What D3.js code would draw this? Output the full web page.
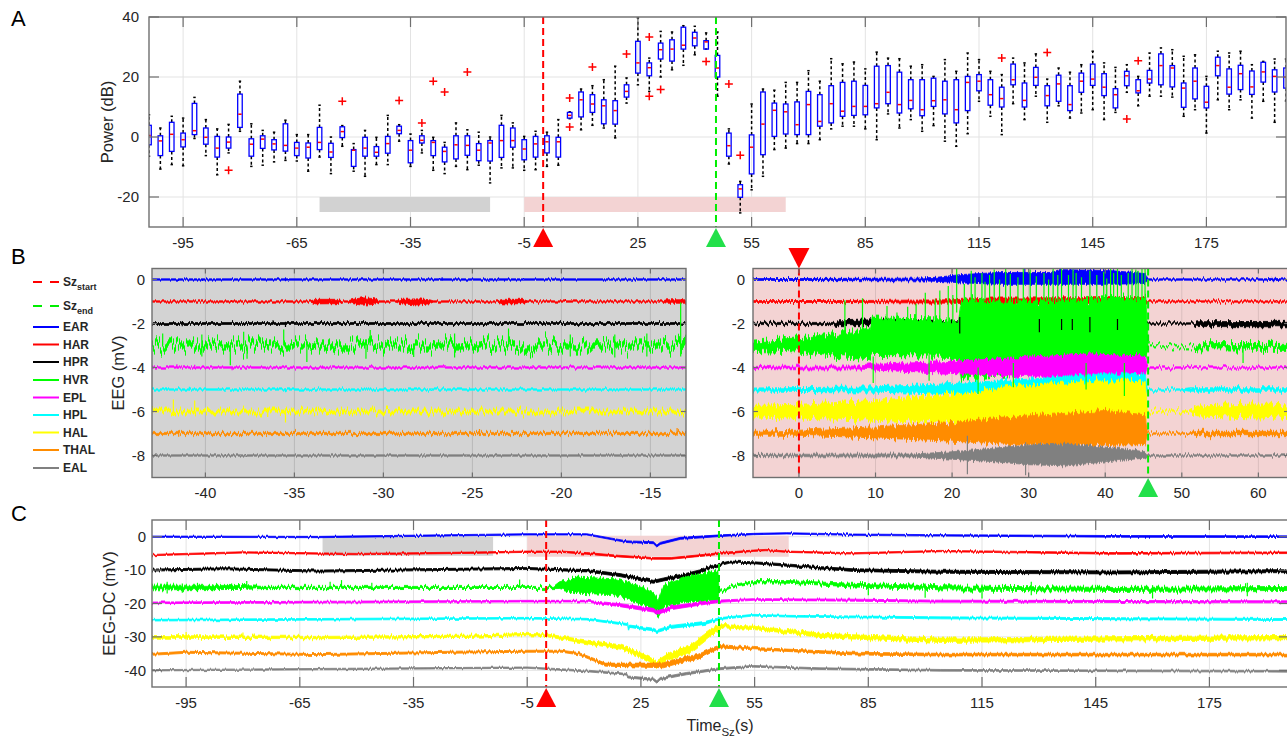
<!DOCTYPE html>
<html>
<head>
<meta charset="utf-8">
<script src="https://cdn.jsdelivr.net/npm/d3@7"></script>
<style>
  body { margin: 0; background: #fff; }
  svg { display: block; }
  text { font-family: "Liberation Sans", Arial, Helvetica, sans-serif; }
</style>
</head>
<body>
<svg id="chart" width="1287" height="740"></svg>
<script>
// ---------- panel A : power box plots (dB), one box every 3 s ----------
const boxTime = [
  -104,-101,-98,-95,-92,-89,-86,-83,-80,-77,
  -74,-71,-68,-65,-62,-59,-56,-53,-50,-47,
  -44,-41,-38,-35,-32,-29,-26,-23,-20,-17,
  -14,-11,-8,-5,-2,1,4,7,10,13,
  16,19,22,25,28,31,34,37,40,43,
  46,49,52,55,58,61,64,67,70,73,
  76,79,82,85,88,91,94,97,100,103,
  106,109,112,115,118,121,124,127,130,133,
  136,139,142,145,148,151,154,157,160,163,
  166,169,172,175,178,181,184,187,190,193,
  196];
const boxQ1 = [
  -2.6,-6.2,-4.8,-3.3,0.8,-2.4,-6.7,-3.7,3.2,-6.4,
  -3.8,-4.3,-4.7,-6.2,-7,-4.2,-6.8,-0.2,-9.8,-6.4,
  -6.4,-5.4,1.1,-8.6,-2,-6.2,-8.3,-7.3,-6.1,-7.9,
  -8,-6.8,-3.4,-7.6,-6.7,-5.3,-6.7,6.3,6.7,8.2,
  4.4,4.3,13.3,21.3,20.4,26,25.3,29.3,30.4,29.3,
  20,-6.4,-20.1,-12.3,-5.9,0.2,1,0.8,0.8,3.6,
  4.7,6.9,7.2,7.4,9.7,11.1,8,9.4,7.1,10.2,
  7.7,4.7,8.8,15.4,10.6,10,17.4,10,17.2,10.4,
  11.9,8.8,14.9,17.2,13.8,9.7,17.1,14.7,18,17.4,
  16.7,9.9,12.7,9.7,20.4,14.3,15.8,14.2,18.3,15,
  16.3];
const boxMedian = [
  0.5,-1.3,0.9,-0.9,2.1,-0.1,-3.7,-1.7,7.6,-2.4,
  -0.7,-2.3,-2.8,-3.7,-3.4,-1.8,-5,1.8,-4.4,-3.7,
  -5.1,-2.2,2.2,-4.4,-1.1,-1.8,-4.8,-2.6,-2.8,-4.4,
  -2,-1.2,-1.2,-4,-2.3,-1.6,-1.6,7.2,12.4,11,
  10.4,8.8,15.2,24.7,23.1,29.1,29.3,30.6,33,31.7,
  23,-2.9,-17.3,-3.4,4.3,8.9,8.4,4.1,10.8,5.2,
  11.1,8.6,10.2,10.2,11.1,14.9,10.8,12.2,9.1,12.1,
  12.4,9.1,18.2,18.6,14.1,12.8,19.1,12.2,19.9,13.8,
  17.7,10.8,18.6,19.3,16.6,14.1,20.4,15.4,19.3,23.8,
  23,16.3,18.6,11.6,23.8,16.6,21.1,16.7,21.7,20.2,
  20];
const boxQ3 = [
  3.9,0.4,4.9,1.3,11.2,3,0.2,0,14.3,-0.6,
  0.4,-0.9,4.4,-1.8,-2,3.2,-2.1,3.4,-4.2,-0.1,
  -3.2,0.2,3.6,-1.2,0.4,-1.2,-3.4,0.4,0.4,-2.2,
  -1.2,3.9,3,-0.9,0.2,0.4,-0.1,8.2,15,14.1,
  12.4,12.1,17.4,31.9,24.7,31.3,32.4,36.6,34.9,32.1,
  27.2,1.3,-15.9,0.7,15,11.3,11,11.7,15.2,14.1,
  17.1,18.2,18.6,17.2,23.6,23.8,21.6,19.1,19.1,19.6,
  18.6,19.1,20.2,20.8,19.1,16.6,24.3,18,23.2,17.1,
  20.6,17.1,21.3,24.3,21.1,16.1,21.9,19.1,22.2,27.7,
  23.8,18,23,16.9,26.6,22.7,23.9,22,24.9,22.4,
  23];
const boxLow = [
  -6.4,-10.7,-9.2,-9.6,-0.5,-6.2,-12.6,-5.3,1.9,-9.8,
  -9.4,-8.3,-7.8,-8,-11.4,-6.7,-12.2,-3.1,-11.4,-13.1,
  -9.2,-9.2,-1.4,-9.8,-5.3,-11.1,-12.2,-9.8,-10.9,-9.4,
  -15.3,-10.3,-10.3,-11.1,-10.9,-9.8,-9.4,6.1,2.4,3.9,
  3,-0.3,11.3,17.4,15.2,20,22.4,23.9,27.4,29.3,
  13.6,-9,-25.3,-17.6,-13.1,-4.2,-3.7,-2.2,-2.2,-0.9,
  2.7,3.6,3.6,2.7,-0.9,7.7,3,5.8,1.9,3.8,
  -1.4,-3.1,1.1,11.9,6.9,0.8,11.1,5.8,13.6,4.9,
  10.4,6.3,8,9.1,5.8,8.2,14.9,10.4,13.6,13.6,
  13.3,6.9,9.1,1.3,12.4,9.1,12.4,6.3,11.9,4.9,
  12];
const boxHigh = [
  7.4,3,6.9,6.3,13.2,5.8,2.7,4.2,18.6,4.4,
  2.2,1.6,5.6,0.8,0.8,10.6,0,3.8,-2.2,2.2,
  -0.1,7.2,4.1,1,2.2,-0.1,-1.8,4.7,2.4,1.6,
  0,7.2,4.7,0.2,1.9,1.6,5.8,8.4,16,17.1,
  19.1,23.6,19.7,39.7,26.3,35.2,35,37.1,36.9,34.7,
  35,2.7,-14.8,11,16,15.6,18.2,18.2,22.1,18.6,
  26.1,24.4,25,22.7,28.3,26.3,26.1,23.6,24.1,20.2,
  25.8,21.9,28,25.8,21.9,20.8,26.3,24.7,27.7,19.3,
  23,21.6,24.1,28.6,24.7,23.2,24.1,20.2,28,29.7,
  29.1,26.9,27.4,20.2,28.6,28,28.6,24.1,25.2,26,
  26];
const outlierTime  = [-83,-53,-38,-32,-29,-26,-20,7,7,13,22,28,28,31,43,49,52,121,133,154,157];
const outlierValue = [-11.1,11.9,12.2,4.7,18.6,15,21.7,13,3.3,23.3,27.7,33.3,13.6,15.8,25.2,17.7,-6.1,26.3,28.2,6,25.4];

const grayWindow = [-59, -14];
const pinkWindow = [-5, 64];
const szStart = 0;
const szEnd = 45.6;

const xTicksLong = [-95,-65,-35,-5,25,55,85,115,145,175];
const yTicksA = [-20,0,20,40];
const xTicksBL = [-40,-35,-30,-25,-20,-15];
const xTicksBR = [0,10,20,30,40,50,60];
const yTicksB = [-8,-6,-4,-2,0];
const yTicksC = [-40,-30,-20,-10,0];

// ---------- channels ----------
const channels = ['EAR','HAR','HPR','HVR','EPL','HPL','HAL','THAL','EAL'];
const chColors = ['#0000ff','#ff0000','#000000','#00ff00','#ff00ff','#00ffff','#ffff00','#ff8c00','#808080'];

// ---------- panel B left (pre-ictal window), envelope knots [t, low, high] in mV ----------
const blEAR = [[-43,-0.03,0.03],[-13,-0.03,0.03]];
const blHAR = [[-43,-1.03,-0.97],[-34.1,-1.03,-0.97],[-33.8,-1.11,-0.9],[-32.6,-1.1,-0.9],[-32.3,-1.03,-0.97],
  [-32,-1.03,-0.97],[-31.7,-1.1,-0.9],[-31.2,-1.17,-0.83],[-30.5,-1.13,-0.87],[-30.2,-1.03,-0.97],
  [-29.3,-1.03,-0.97],[-29,-1.11,-0.9],[-28,-1.16,-0.88],[-27.4,-1.1,-0.92],[-27.2,-1.03,-0.97],
  [-23.6,-1.03,-0.97],[-23.3,-1.11,-0.9],[-22.2,-1.1,-0.9],[-21.9,-1.03,-0.97],[-14.3,-1.03,-0.97],
  [-14.1,-1.08,-0.92],[-13,-1.08,-0.92]];
const blHPR = [[-43,-2.04,-1.96],[-13,-2.04,-1.96]];
const blHVR = [[-43,-3.12,-2.88],[-13.5,-3.12,-2.88],[-13.3,-3.2,-2.8],[-13,-3.15,-2.75]];
const blEPL = [[-43,-4.03,-3.97],[-13,-4.03,-3.97]];
const blHPL = [[-43,-5.03,-4.97],[-13,-5.03,-4.97]];
const blHAL = [[-43,-6.07,-5.93],[-13,-6.07,-5.93]];
const blTHAL = [[-43,-7.05,-6.95],[-13,-7.05,-6.95]];
const blEAL = [[-43,-8.03,-7.97],[-13,-8.03,-7.97]];
// spikes [channel, t, low, high]
const blSpikes = [
  [0,-35.5,-0.08,0.04],[0,-26.7,-0.04,0.1],
  [2,-41.3,-2.12,-1.9],[2,-36.2,-2.05,-1.85],[2,-35.5,-2.16,-1.92],
  [3,-42.4,-3,-2.45],[3,-40.2,-3.5,-2.5],[3,-38.6,-3.9,-3],[3,-37.85,-3,-2.38],[3,-37.66,-3.6,-3],
  [3,-35.6,-3,-2.27],[3,-34.3,-3.75,-3],[3,-30.98,-3.6,-3],[3,-30.74,-3,-2.29],[3,-28.3,-3.52,-3],
  [3,-26,-3.55,-2.45],[3,-22.97,-3,-2.23],[3,-19.5,-3.5,-2.5],[3,-17,-3.55,-2.5],[3,-15.2,-3.5,-2.45],
  [3,-13.3,-3.5,-1.05],
  [4,-41.6,-4.05,-3.85],[4,-40.6,-4.05,-3.88],[4,-38.5,-4.13,-3.95],
  [5,-40.9,-5.05,-4.88],[5,-35.5,-5.12,-4.95],
  [6,-41.8,-6.2,-5.45],[6,-40.6,-6.1,-5.5],[6,-36.5,-6.25,-5.85],[6,-35.5,-6.5,-5.85],
  [7,-41.5,-7.15,-6.85],[7,-24.6,-7.1,-6.8],[7,-13.5,-7.1,-6.75]];

// ---------- panel B right (seizure window) ----------
const brEAR = [[-6,-0.04,0.04],[15,-0.06,0.06],[18,-0.08,0.1],[21,-0.15,0.22],[26,-0.22,0.32],[33,-0.22,0.32],
  [34,-0.22,0.45],[41,-0.22,0.4],[45.2,-0.18,0.27],[45.5,-0.03,0.03],[61,-0.03,0.03],[62,-0.06,0.06],[63,-0.03,0.03],[64,-0.03,0.03]];
const brHAR = [[-6,-1.04,-0.96],[10,-1.05,-0.95],[20,-1.08,-0.92],[25,-1.13,-0.84],[45.2,-1.13,-0.82],[45.5,-1.03,-0.97],[64,-1.03,-0.97]];
const brHPR = [[-6,-2.05,-1.95],[4.5,-2.05,-1.95],[5,-2.1,-1.88],[9.5,-2.1,-1.83],[16,-2.08,-1.88],[20,-2.08,-1.92],
  [45.2,-2.08,-1.92],[45.5,-2.03,-1.97],[51.5,-2.03,-1.97],[52,-2.14,-1.92],[64,-2.15,-1.9]];
const brHVR = [[-6,-3.22,-2.8],[0,-3.3,-2.65],[5,-3.5,-2.45],[9.3,-3.6,-2.2],[9.6,-3.45,-1.75],[20.8,-3.5,-1.8],
  [21.2,-4.5,-0.95],[30,-4.2,-1],[38,-3.9,-0.9],[45.3,-3.6,-0.8],[45.6,-3.07,-3.01],[51.5,-3.07,-3.01],[52,-3.15,-2.92],[64,-3.18,-2.9]];
const brEPL = [[-6,-4.05,-3.95],[8,-4.07,-3.93],[10,-4.12,-3.85],[20,-4.27,-3.72],[30,-4.42,-3.53],[38,-4.52,-3.38],
  [45.2,-4.37,-3.48],[45.5,-4.03,-3.97],[64,-4.03,-3.97]];
const brHPL = [[-6,-5.07,-4.93],[10,-5.12,-4.88],[20,-5.22,-4.73],[30,-5.27,-4.53],[40,-5.37,-4.28],[45.2,-5.37,-4.33],
  [45.5,-5.03,-4.97],[50,-5.03,-4.97],[51,-5.08,-4.92],[64,-5.08,-4.92]];
const brHAL = [[-6,-6.25,-5.72],[0,-6.3,-5.67],[10,-6.4,-5.5],[20,-6.55,-5.2],[30,-6.75,-4.8],[40,-6.95,-4.6],
  [45.2,-6.85,-4.65],[45.5,-6.03,-5.97],[51,-6.03,-5.97],[52,-6.2,-5.75],[60,-6.3,-5.65],[64,-6.22,-5.7]];
const brTHAL = [[-6,-7.08,-6.9],[0,-7.08,-6.85],[10,-7.2,-6.7],[20,-7.35,-6.5],[30,-7.55,-6.2],[40,-7.55,-5.95],
  [45.2,-7.5,-6.15],[45.5,-7.03,-6.97],[51,-7.03,-6.97],[52,-7.1,-6.9],[64,-7.1,-6.9]];
const brEAL = [[-6,-8.05,-7.95],[15,-8.07,-7.93],[20,-8.17,-7.83],[25,-8.27,-7.68],[30,-8.42,-7.53],[35,-8.47,-7.48],
  [42,-8.22,-7.68],[45.2,-8.12,-7.83],[45.5,-8.03,-7.97],[64,-8.03,-7.97]];
const brSpikes = [
  [0,29.5,-0.2,0.5],[0,38.5,-0.2,0.55],
  [3,6,-2.6,-0.94],[3,8.3,-2.5,-0.85],[3,9.7,-4.7,-3.5],[3,11.5,-2,-1.2],[3,12.8,-2,-1.5],[3,14.2,-2,-1.24],
  [3,15.3,-2,-1.1],[3,16.5,-2,-0.6],[3,17,-4.6,-3.4],[3,17.8,-2,-0.9],[3,18.4,-2,-0.5],[3,19.5,-2,-0.3],
  [3,20.1,-2,-0.7],[3,20.6,-1.5,0.5],[3,21.6,-1,-0.2],[3,22.5,-1,0.4],[3,23,-1,0.1],[3,23.4,-5.2,-4],
  [3,23.9,-1,0.3],[3,24.3,-1,-0.1],[3,24.9,-1,0.2],[3,25.5,-1,0.45],[3,26.2,-1,0],[3,27,-1,0.5],
  [3,27.6,-1,0.25],[3,28,-4.9,-3.8],[3,28.6,-1,0.1],[3,29.3,-1,0.5],[3,30.2,-1,0.45],[3,31,-1,0.15],
  [3,32,-1,0.3],[3,32.6,-1,0],[3,33.2,-1,0.5],[3,33.8,-1,0.2],[3,34.3,-1,0.5],[3,35.2,-1,0.2],
  [3,35.8,-1,0.45],[3,36.2,-1,0.3],[3,36.9,-1,0.1],[3,37.5,-5,-3.8],[3,38,-1,0.4],[3,38.9,-1,0.2],
  [3,39.8,-1,0.35],[3,40.2,-1,0.05],[3,40.7,-1,0.5],[3,41.1,-1,0.3],[3,41.6,-1,0.5],[3,42.1,-1,0.2],
  [3,42.5,-5.3,-3.8],[3,43,-1,0.3],[3,43.5,-1,0.5],[3,44,-1,0.45],[3,44.3,-1,0.4],[3,44.8,-1,0.5],
  [3,45.2,-1,0.5],[3,58,-3.8,-3],
  [2,21,-2.45,-1.7],[2,31.4,-2.4,-1.8],[2,34.3,-2.3,-1.8],[2,35.7,-2.3,-1.8],[2,38,-2.4,-1.7],[2,41.6,-2.3,-1.8],
  [8,22,-8.85,-7.1],[8,29.6,-8.9,-7.4]];

// ---------- panel C (DC-coupled EEG), knots [t, centre, half-width] in mV ----------
const dcEAR = [[-104,0,0.2],[-60,-0.1,0.2],[-5,0.7,0.2],[10.7,0.7,0.2],[21.3,-1.5,0.25],[28.3,-1.8,0.3],[29.2,-2.8,0.3],
  [30.1,-2,0.3],[35.4,-0.5,0.3],[45.9,0.3,0.25],[54.7,0.8,0.2],[63.5,1,0.2],[81,0.6,0.2],[104,0.4,0.2],[150,0.1,0.25],[196,0,0.25]];
const dcHAR = [[-104,-5.5,0.2],[-80,-4.7,0.2],[-50,-5.2,0.2],[-20,-4.8,0.2],[-5,-4.5,0.2],[4,-4.5,0.2],[10.7,-5,0.25],
  [19,-5.8,0.25],[28.3,-6.5,0.25],[33,-6.5,0.25],[42,-5.5,0.25],[45.9,-5,0.25],[54.7,-4.2,0.2],[58,-4,0.2],[63.5,-4.5,0.2],
  [81,-5,0.2],[104,-4.3,0.2],[150,-5,0.25],[196,-4.8,0.25]];
const dcHPR = [[-104,-10,0.3],[-85,-9.6,0.3],[-60,-10.3,0.3],[-20,-9.7,0.3],[-5,-9.5,0.3],[10.7,-10.2,0.35],[19.5,-11.5,0.45],
  [28.3,-13.5,0.45],[31,-12.8,0.45],[37,-11.5,0.55],[40.5,-10.5,0.55],[42.3,-9.5,0.45],[45.9,-8.3,0.35],[48.5,-7.6,0.3],
  [54.7,-7.8,0.3],[63.5,-8.5,0.35],[72,-9.3,0.35],[81,-10,0.4],[104,-10.5,0.45],[150,-10.7,0.45],[196,-10.3,0.45]];
const dcHVR = [[-104,-15.2,0.7],[-80,-15.2,0.6],[-75,-15.2,0.35],[-5,-15.2,0.3],[2,-15.2,0.35],[3.5,-14.5,1],[8,-14.5,2.4],
  [18.4,-15,2.4],[25,-17.5,2.7],[28.3,-19.5,2.6],[29.5,-21.5,2.7],[31,-18,3.4],[38,-15.5,3.9],[45.3,-14.8,4.6],
  [45.6,-16.5,0.3],[50,-14.5,0.3],[54.7,-13.5,0.35],[63.5,-13.5,0.4],[72,-14,0.45],[81,-14.5,0.55],[104,-15.3,0.6],
  [150,-15.8,0.6],[196,-15.5,0.6]];
const dcEPL = [[-104,-19.8,0.25],[-5,-19.3,0.25],[10.7,-19.3,0.25],[19.5,-20.5,0.45],[28.3,-22,0.55],[29.2,-22.8,0.55],[33,-21.3,0.55],
  [42,-19.8,0.45],[45.9,-19.3,0.35],[54.7,-18.8,0.25],[81,-19,0.3],[104,-19.3,0.3],[196,-19.5,0.3]];
const dcHPL = [[-104,-25,0.25],[-5,-24.4,0.25],[10.7,-24.7,0.25],[19.5,-26,0.3],[21.5,-26.3,0.3],[21.7,-28,0.3],[22,-26.8,0.35],
  [28.3,-27.8,0.4],[29.2,-28.3,0.4],[33,-27,0.45],[42,-25.8,0.45],[45.9,-24.5,0.3],[54.7,-23.5,0.25],[63.5,-23.8,0.25],
  [104,-24.3,0.3],[196,-24.8,0.3]];
const dcHAL = [[-104,-30,0.4],[-60,-30.2,0.35],[-20,-29.8,0.35],[-5,-29.3,0.35],[0,-29.5,0.4],[10.7,-31.5,0.55],[19.5,-33,0.65],
  [24,-35,0.75],[28.3,-37.5,0.85],[29.2,-38,0.85],[33,-35.5,1.05],[37.5,-34,1.15],[41,-31,1.15],[45,-27.5,0.95],[46.8,-26.8,0.5],
  [54.7,-27.3,0.5],[63.5,-28.3,0.55],[72,-29.5,0.65],[81,-30,0.65],[104,-31,0.65],[150,-30.6,0.65],[196,-30.2,0.65]];
const dcTHAL = [[-104,-35.2,0.3],[-95,-34.6,0.3],[-60,-35.3,0.3],[-20,-34.5,0.3],[-5,-34.3,0.3],[4,-34.3,0.3],[8.5,-35,0.35],
  [13,-37,0.4],[15.6,-38.3,0.45],[28.3,-38.5,0.65],[31,-38.5,0.75],[35.4,-37,0.75],[40,-36,0.75],[45.9,-32.8,0.5],
  [54.7,-33.5,0.35],[63.5,-34,0.35],[81,-35,0.4],[104,-35.3,0.4],[196,-35.3,0.4]];
const dcEAL = [[-104,-40,0.2],[-5,-39.2,0.2],[10.7,-40.2,0.25],[19.5,-41,0.25],[21.3,-41.2,0.25],[21.5,-42,0.3],[28.3,-42.7,0.35],
  [29.2,-43.5,0.35],[30.1,-42.5,0.35],[37,-41,0.35],[45.9,-39.5,0.3],[54.7,-38.8,0.25],[72,-39.5,0.25],[104,-40,0.25],[196,-40.3,0.25]];
const dcSpikes = [
  [3,-100,-17,-13.5],[3,-96,-16.8,-14],[3,-92,-16.5,-13.8],[3,-88,-16.3,-14.2],[3,-83,-16,-14],[3,-79,-15.8,-13.3],
  [3,-57,-15.5,-13.5],[3,-54,-15.5,-13],[3,-46,-15.5,-13.8],[3,-7,-15.3,-12.8],[3,85,-17.5,-14],[3,100,-18.3,-14],
  [3,115,-18.5,-14.3],[3,128,-17.5,-13.5],[3,160,-18.5,-14.5],[3,185,-17.8,-13.8],
  [6,-95,-30.8,-28.5],[6,-80,-30.5,-28.7],[6,-77,-30.5,-29]];

const bLeftTraces = [blEAR, blHAR, blHPR, blHVR, blEPL, blHPL, blHAL, blTHAL, blEAL];
const bRightTraces = [brEAR, brHAR, brHPR, brHVR, brEPL, brHPL, brHAL, brTHAL, brEAL];
const dcTraces = [dcEAR, dcHAR, dcHPR, dcHVR, dcEPL, dcHPL, dcHAL, dcTHAL, dcEAL];

// line texture (px of wiggle) per channel, used only for rendering
const bLeftWiggle = [4, 5, 6, 30, 5, 5, 14, 9, 4];
const bRightWiggle = [6, 6, 8, 18, 8, 8, 14, 11, 7];
const dcWiggle = [3, 3, 4, 8, 3, 3, 6, 4, 3];

// ---------- drawing ----------
const svg = d3.select('#chart');
const defs = svg.append('defs');
const axisColor = '#6f6f6f';
const textColor = '#262626';
const red = '#ff0000';
const green = '#00ee00';
const triGreen = '#22e04a';

const xA = d3.scaleLinear().domain([-104, 196]).range([149, 1286]);
const yA = d3.scaleLinear().domain([-30, 40]).range([227, 17]);
const xBL = d3.scaleLinear().domain([-43, -13]).range([152, 686]);
const xBR = d3.scaleLinear().domain([-6, 64]).range([753, 1289]);
const yB = d3.scaleLinear().domain([-9, 0.5]).range([477.5, 268.5]);
const xC = d3.scaleLinear().domain([-104, 196]).range([152, 1289]);
const yC = d3.scaleLinear().domain([-45, 5]).range([687, 520]);

const makeClip = (id, x, y) => {
  defs.append('clipPath').attr('id', id).append('rect')
    .attr('x', x.range()[0]).attr('y', y.range()[1])
    .attr('width', x.range()[1] - x.range()[0])
    .attr('height', y.range()[0] - y.range()[1]);
  return `url(#${id})`;
};

// vertical-only noise displacement so the bands read as EEG traces
const makeWiggle = (id, scale, seed, freq) => {
  const f = defs.append('filter').attr('id', id)
    .attr('filterUnits', 'userSpaceOnUse').attr('x', 0).attr('y', 0).attr('width', 1287).attr('height', 740)
    .attr('color-interpolation-filters', 'sRGB');
  f.append('feTurbulence').attr('type', 'fractalNoise').attr('baseFrequency', `${freq} 0.004`)
    .attr('numOctaves', 2).attr('seed', seed).attr('result', 'noise');
  f.append('feColorMatrix').attr('in', 'noise').attr('type', 'matrix')
    .attr('values', '0 0 0 0 0.5  0 1 0 0 0  0 0 0 0 0  0 0 0 0 1').attr('result', 'map');
  f.append('feDisplacementMap').attr('in', 'SourceGraphic').attr('in2', 'map').attr('scale', scale)
    .attr('xChannelSelector', 'R').attr('yChannelSelector', 'G');
  return `url(#${id})`;
};

const drawGrid = (g, x, y, xt, yt, color) => {
  g.append('g').selectAll('line').data(xt).join('line')
    .attr('x1', (d) => x(d)).attr('x2', (d) => x(d))
    .attr('y1', y.range()[1]).attr('y2', y.range()[0])
    .attr('stroke', color).attr('stroke-width', 1);
  g.append('g').selectAll('line').data(yt).join('line')
    .attr('x1', x.range()[0]).attr('x2', x.range()[1])
    .attr('y1', (d) => y(d)).attr('y2', (d) => y(d))
    .attr('stroke', color).attr('stroke-width', 1);
};

const drawFrame = (g, x, y, xt, yt, len, xLabelY, yLabelX) => {
  const [x0, x1] = x.range();
  const [y0, y1] = y.range();
  const ticks = g.append('g').attr('stroke', axisColor).attr('stroke-width', 1.2);
  xt.forEach((d) => {
    ticks.append('line').attr('x1', x(d)).attr('x2', x(d)).attr('y1', y0).attr('y2', y0 - len);
    ticks.append('line').attr('x1', x(d)).attr('x2', x(d)).attr('y1', y1).attr('y2', y1 + len);
  });
  yt.forEach((d) => {
    ticks.append('line').attr('x1', x0).attr('x2', x0 + len).attr('y1', y(d)).attr('y2', y(d));
    ticks.append('line').attr('x1', x1).attr('x2', x1 - len).attr('y1', y(d)).attr('y2', y(d));
  });
  g.append('rect').attr('x', x0).attr('y', y1).attr('width', x1 - x0).attr('height', y0 - y1)
    .attr('fill', 'none').attr('stroke', axisColor).attr('stroke-width', 1.4);
  g.append('g').selectAll('text').data(xt).join('text')
    .attr('x', (d) => x(d)).attr('y', xLabelY).attr('text-anchor', 'middle')
    .attr('font-size', 15).attr('fill', textColor).text((d) => String(d));
  if (yLabelX != null) {
    g.append('g').selectAll('text').data(yt).join('text')
      .attr('x', yLabelX).attr('y', (d) => y(d)).attr('dy', '0.35em').attr('text-anchor', 'end')
      .attr('font-size', 15).attr('fill', textColor).text((d) => String(d));
  }
};

const triangle = (g, cx, tipY, baseY, color) => {
  g.append('path')
    .attr('d', `M${cx - 10},${baseY} L${cx + 10},${baseY} L${cx},${tipY} Z`)
    .attr('fill', color);
};

const szLine = (g, x, y, t, color) => {
  g.append('line').attr('x1', x(t)).attr('x2', x(t))
    .attr('y1', y.range()[1]).attr('y2', y.range()[0])
    .attr('stroke', color).attr('stroke-width', 2).attr('stroke-dasharray', '7,4');
};

const drawTraces = (g, x, y, traces, spikes, mode, wiggle, key) => {
  const area = mode === 'centre'
    ? d3.area().x((d) => x(d[0])).y0((d) => y(d[1] - d[2])).y1((d) => y(d[1] + d[2]))
    : d3.area().x((d) => x(d[0])).y0((d) => y(d[1])).y1((d) => y(d[2]));
  traces.forEach((tr, i) => {
    const filt = makeWiggle(`${key}w${i}`, wiggle[i], i * 7 + 3, 0.6);
    g.append('g').attr('filter', filt)
      .append('path').datum(tr).attr('d', area)
      .attr('fill', chColors[i]).attr('stroke', chColors[i])
      .attr('stroke-width', 0.8).attr('stroke-linejoin', 'round');
  });
  g.append('g').selectAll('line').data(spikes).join('line')
    .attr('x1', (d) => x(d[1])).attr('x2', (d) => x(d[1]))
    .attr('y1', (d) => y(d[2])).attr('y2', (d) => y(d[3]))
    .attr('stroke', (d) => chColors[d[0]]).attr('stroke-width', 1.2);
};

// ===== Panel A =====
const gA = svg.append('g');
drawGrid(gA, xA, yA, xTicksLong, yTicksA, '#e3e3e3');
gA.append('rect').attr('x', xA(grayWindow[0])).attr('width', xA(grayWindow[1]) - xA(grayWindow[0]))
  .attr('y', yA(-20)).attr('height', yA(-25) - yA(-20)).attr('fill', '#d2d2d2');
gA.append('rect').attr('x', xA(pinkWindow[0])).attr('width', xA(pinkWindow[1]) - xA(pinkWindow[0]))
  .attr('y', yA(-20)).attr('height', yA(-25) - yA(-20)).attr('fill', '#f3d3d3');

const boxes = boxTime.map((t, i) => ({
  t, lo: boxLow[i], q1: boxQ1[i], med: boxMedian[i], q3: boxQ3[i], hi: boxHigh[i],
}));
const gBox = gA.append('g').attr('clip-path', makeClip('clipA', xA, yA));
const half = (xA(0.6) - xA(0));
const bx = gBox.selectAll('g.box').data(boxes).join('g').attr('class', 'box');
bx.append('line').attr('x1', (d) => xA(d.t)).attr('x2', (d) => xA(d.t))
  .attr('y1', (d) => yA(d.q3)).attr('y2', (d) => yA(d.hi))
  .attr('stroke', '#000').attr('stroke-width', 1.5).attr('stroke-dasharray', '3,2.5');
bx.append('line').attr('x1', (d) => xA(d.t)).attr('x2', (d) => xA(d.t))
  .attr('y1', (d) => yA(d.q1)).attr('y2', (d) => yA(d.lo))
  .attr('stroke', '#000').attr('stroke-width', 1.5).attr('stroke-dasharray', '3,2.5');
bx.append('line').attr('x1', (d) => xA(d.t) - 1.2).attr('x2', (d) => xA(d.t) + 1.2)
  .attr('y1', (d) => yA(d.hi)).attr('y2', (d) => yA(d.hi)).attr('stroke', '#000').attr('stroke-width', 1.5);
bx.append('line').attr('x1', (d) => xA(d.t) - 1.2).attr('x2', (d) => xA(d.t) + 1.2)
  .attr('y1', (d) => yA(d.lo)).attr('y2', (d) => yA(d.lo)).attr('stroke', '#000').attr('stroke-width', 1.5);
bx.append('rect').attr('x', (d) => xA(d.t) - half).attr('width', half * 2)
  .attr('y', (d) => yA(d.q3)).attr('height', (d) => Math.max(1, yA(d.q1) - yA(d.q3)))
  .attr('fill', 'none').attr('stroke', '#0000ff').attr('stroke-width', 1.3);
bx.append('line').attr('x1', (d) => xA(d.t) - half + 0.6).attr('x2', (d) => xA(d.t) + half - 0.6)
  .attr('y1', (d) => yA(d.med)).attr('y2', (d) => yA(d.med)).attr('stroke', red).attr('stroke-width', 1.5);
gBox.selectAll('path.out').data(outlierTime.map((t, i) => [t, outlierValue[i]])).join('path')
  .attr('class', 'out')
  .attr('d', (d) => `M${xA(d[0]) - 4},${yA(d[1])}h8M${xA(d[0])},${yA(d[1]) - 4}v8`)
  .attr('stroke', red).attr('stroke-width', 1.5);

szLine(gA, xA, yA, szStart, red);
szLine(gA, xA, yA, szEnd, green);
drawFrame(gA, xA, yA, xTicksLong, yTicksA, 10, 248, 139);
triangle(gA, xA(szStart), 228, 247, red);
triangle(gA, xA(szEnd), 228, 247, triGreen);
gA.append('text').attr('transform', `translate(113,${(yA(40) + yA(-30)) / 2}) rotate(-90)`)
  .attr('text-anchor', 'middle').attr('font-size', 16.5).attr('fill', textColor).text('Power (dB)');
svg.append('text').attr('x', 11).attr('y', 26).attr('font-size', 22).text('A');

// ===== Panel B =====
const gB = svg.append('g');
// left window
gB.append('rect').attr('x', xBL.range()[0]).attr('y', yB.range()[1])
  .attr('width', xBL.range()[1] - xBL.range()[0]).attr('height', yB.range()[0] - yB.range()[1]).attr('fill', '#d3d3d3');
drawGrid(gB, xBL, yB, xTicksBL, [], 'rgba(0,0,0,0.13)');
const gBL = gB.append('g').attr('clip-path', makeClip('clipBL', xBL, yB));
drawTraces(gBL, xBL, yB, bLeftTraces, blSpikes, 'range', bLeftWiggle, 'bl');
drawFrame(gB, xBL, yB, xTicksBL, yTicksB, 5, 498, 145);

// right window
gB.append('rect').attr('x', xBR.range()[0]).attr('y', yB.range()[1])
  .attr('width', xBR.range()[1] - xBR.range()[0]).attr('height', yB.range()[0] - yB.range()[1]).attr('fill', '#f3d3d3');
drawGrid(gB, xBR, yB, xTicksBR, [], 'rgba(0,0,0,0.1)');
const gBR = gB.append('g').attr('clip-path', makeClip('clipBR', xBR, yB));
drawTraces(gBR, xBR, yB, bRightTraces, brSpikes, 'range', bRightWiggle, 'br');
szLine(gBR, xBR, yB, szStart, red);
szLine(gBR, xBR, yB, szEnd, green);
drawFrame(gB, xBR, yB, xTicksBR, yTicksB, 5, 498, 745);
gB.append('path')
  .attr('d', `M${xBR(szStart) - 10.5},248 L${xBR(szStart) + 10.5},248 L${xBR(szStart)},268.5 Z`).attr('fill', red);
triangle(gB, xBR(szEnd), 478, 497, triGreen);

gB.append('text').attr('transform', `translate(124,${(yB(0.5) + yB(-9)) / 2}) rotate(-90)`)
  .attr('text-anchor', 'middle').attr('font-size', 16.5).attr('fill', textColor).text('EEG (mV)');
svg.append('text').attr('x', 11).attr('y', 264).attr('font-size', 22).text('B');

// legend
const legendRows = [
  { name: 'Sz', sub: 'start', color: red, dash: '9,8' },
  { name: 'Sz', sub: 'end', color: green, dash: '9,8' },
  ...channels.map((c, i) => ({ name: c, sub: null, color: chColors[i], dash: null })),
];
const legendY = [282, 306, 327, 344.5, 362, 380, 397.5, 415, 432.5, 450, 468];
const gLeg = svg.append('g');
legendRows.forEach((r, i) => {
  gLeg.append('line').attr('x1', 33).attr('x2', 59).attr('y1', legendY[i]).attr('y2', legendY[i])
    .attr('stroke', r.color).attr('stroke-width', 2).attr('stroke-dasharray', r.dash);
  const t = gLeg.append('text').attr('x', 63).attr('y', legendY[i]).attr('dy', '0.36em')
    .attr('font-size', 12).attr('font-weight', 'bold').attr('fill', textColor).text(r.name);
  if (r.sub) t.append('tspan').attr('dy', 4).attr('font-size', 9).text(r.sub);
});

// ===== Panel C =====
const gC = svg.append('g');
drawGrid(gC, xC, yC, xTicksLong, yTicksC, '#e3e3e3');
gC.append('rect').attr('x', xC(grayWindow[0])).attr('width', xC(grayWindow[1]) - xC(grayWindow[0]))
  .attr('y', yC(0)).attr('height', yC(-5.7) - yC(0)).attr('fill', '#d2d2d2');
gC.append('rect').attr('x', xC(pinkWindow[0])).attr('width', xC(pinkWindow[1]) - xC(pinkWindow[0]))
  .attr('y', yC(0.3)).attr('height', yC(-6) - yC(0.3)).attr('fill', '#f3d3d3');
const gCT = gC.append('g').attr('clip-path', makeClip('clipC', xC, yC));
drawTraces(gCT, xC, yC, dcTraces, dcSpikes, 'centre', dcWiggle, 'dc');
szLine(gC, xC, yC, szStart, red);
szLine(gC, xC, yC, szEnd, green);
drawFrame(gC, xC, yC, xTicksLong, yTicksC, 10, 708, 146);
triangle(gC, xC(szStart), 688, 707, red);
triangle(gC, xC(szEnd), 688, 707, triGreen);
gC.append('text').attr('transform', `translate(115,${(yC(5) + yC(-45)) / 2}) rotate(-90)`)
  .attr('text-anchor', 'middle').attr('font-size', 16.5).attr('fill', textColor).text('EEG-DC (mV)');
const tl = gC.append('text').attr('x', 720).attr('y', 731).attr('text-anchor', 'middle')
  .attr('font-size', 16).attr('fill', textColor).text('Time');
tl.append('tspan').attr('dy', 5).attr('font-size', 11.5).text('Sz');
tl.append('tspan').attr('dy', -5).text('(s)');
svg.append('text').attr('x', 11).attr('y', 521).attr('font-size', 22).text('C');
</script>
</body>
</html>
